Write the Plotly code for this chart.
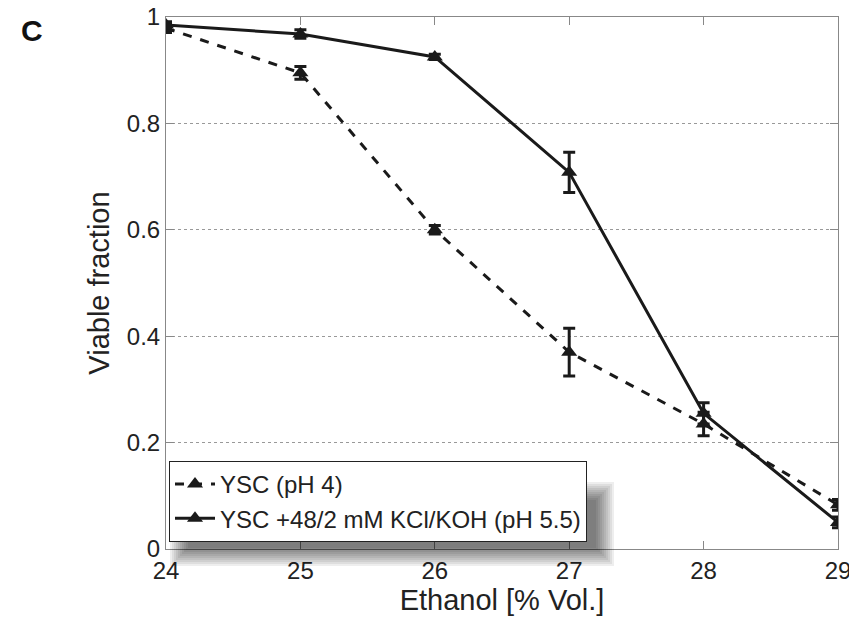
import plotly.graph_objects as go

ethanol = [24, 25, 26, 27, 28, 29]
ysc_ph4 = [0.979, 0.895, 0.600, 0.370, 0.235, 0.083]
ysc_ph4_err = [0.008, 0.012, 0.008, 0.045, 0.022, 0.010]
ysc_kcl = [0.985, 0.968, 0.925, 0.708, 0.255, 0.050]
ysc_kcl_err = [0.006, 0.008, 0.005, 0.038, 0.020, 0.010]
names = ["YSC (pH 4)", "YSC +48/2 mM KCl/KOH (pH 5.5)"]

# page body has an 8px margin: the figure starts at (8, 8) in the window
OFF = 8
W, H = 857 - OFF, 618 - OFF
L, R, T, B = 166 - OFF, 19, 17 - OFF, 69
PW, PH = W - L - R, H - T - B

fig = go.Figure()
for y, e, name, dash in [(ysc_ph4, ysc_ph4_err, names[0], "dash"),
                         (ysc_kcl, ysc_kcl_err, names[1], "solid")]:
    fig.add_trace(go.Scatter(
        x=ethanol, y=y, name=name, mode="lines+markers",
        line=dict(color="#1a1a1a", width=3, dash=dash),
        marker=dict(symbol="triangle-up", size=14, color="#1a1a1a"),
        error_y=dict(type="data", array=e, visible=True, color="#1a1a1a",
                     thickness=3, width=6),
    ))


def px2paper(x, y):
    """window pixel -> paper coords"""
    return (x - OFF - L) / PW, (H - B - (y - OFF)) / PH


font = "Liberation Sans, Arial, sans-serif"
lx, ly = px2paper(169, 542)
cx, cy = px2paper(19, 12)
fig.update_layout(
    width=W, height=H,
    margin=dict(l=L, r=R, t=T, b=B),
    paper_bgcolor="white", plot_bgcolor="white",
    font=dict(family=font, size=24, color="#222"),
    showlegend=True,
    legend=dict(x=lx, y=ly, xanchor="left", yanchor="bottom",
                bgcolor="white", bordercolor="#222", borderwidth=1,
                font=dict(size=24), tracegroupgap=0, itemwidth=40),
    xaxis=dict(range=[24, 29], tickvals=ethanol, ticks="inside", ticklen=8,
               tickcolor="#888", showline=True, linecolor="#888", linewidth=1,
               mirror="ticks", showgrid=False, zeroline=False, automargin=False,
               ticklabeloverflow="allow",
               title=dict(text="Ethanol [% Vol.]", standoff=0),
               tickfont=dict(size=24)),
    yaxis=dict(range=[0, 1], tickvals=[0, 0.2, 0.4, 0.6, 0.8, 1],
               ticktext=["0", "0.2", "0.4", "0.6", "0.8", "1"],
               ticks="inside", ticklen=8, tickcolor="#888",
               showline=True, linecolor="#888", linewidth=1, mirror="ticks",
               showgrid=True, gridcolor="#999", griddash="dot", gridwidth=1,
               zeroline=False, automargin=False, ticklabeloverflow="allow",
               title=dict(text="Viable fraction", standoff=8),
               tickfont=dict(size=24)),
    annotations=[dict(text="<b>C</b>", x=cx, y=cy,
                      xref="paper", yref="paper", xanchor="left", yanchor="top",
                      showarrow=False, font=dict(size=30, color="#111"))],
)

# soft legend shadow: stacked translucent rectangles
x0, y0, x1, y1 = 180, 492, 604, 556
for k in range(10):
    g = 2 * (5 - k)
    a0, b1 = px2paper(x0 - g, y0 - g)
    a1, b0 = px2paper(x1 + g, y1 + g)
    fig.add_shape(type="rect", xref="paper", yref="paper",
                  x0=a0, x1=a1, y0=b0, y1=b1,
                  fillcolor="rgba(0,0,0,0.065)", line=dict(width=0), layer="above")

fig.write_html("out.html")
